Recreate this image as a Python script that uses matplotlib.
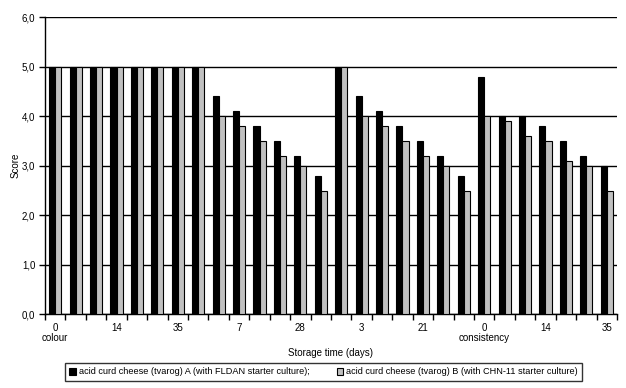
import matplotlib.pyplot as plt
import numpy as np

plt.rcParams['font.family'] = ['Liberation Sans', 'DejaVu Sans']

days = [0, 3, 7, 14, 21, 28, 35]
attributes = ["colour", "odour", "taste", "consistency"]

cheese_A = [5.0, 5.0, 5.0, 5.0, 5.0, 5.0, 5.0,
            5.0, 4.4, 4.1, 3.8, 3.5, 3.2, 2.8,
            5.0, 4.4, 4.1, 3.8, 3.5, 3.2, 2.8,
            4.8, 4.0, 4.0, 3.8, 3.5, 3.2, 3.0]
cheese_B = [5.0, 5.0, 5.0, 5.0, 5.0, 5.0, 5.0,
            5.0, 4.0, 3.8, 3.5, 3.2, 3.0, 2.5,
            5.0, 4.0, 3.8, 3.5, 3.2, 3.0, 2.5,
            4.0, 3.9, 3.6, 3.5, 3.1, 3.0, 2.5]

labels = []
for attr in attributes:
    for i, d in enumerate(days):
        labels.append(str(d) + ("\n" + attr if i == 0 else ""))

x = np.arange(len(cheese_A))
w = 0.3

fig = plt.figure(figsize=(6.26, 3.88), dpi=100)
ax = fig.add_axes([0.0719, 0.19, 0.9137, 0.7654])

ax.bar(x - w / 2, cheese_A, w, color="black", edgecolor="black", linewidth=0.8,
       label="acid curd cheese (tvarog) A (with FLDAN starter culture);", zorder=3)
ax.bar(x + w / 2, cheese_B, w, color="#c0c0c0", edgecolor="black", linewidth=0.8,
       label="acid curd cheese (tvarog) B (with CHN-11 starter culture)", zorder=3)

ax.set_xlim(-0.5, len(x) - 0.5)
ax.set_ylim(0, 6)
ax.set_yticks(np.arange(0, 7, 1))
ax.set_yticklabels([f"{v:.1f}".replace(".", ",") for v in range(7)], fontsize=7)
ax.yaxis.grid(True, color="black", linewidth=1)
ax.set_axisbelow(True)

ax.set_xticks(x[::3])
ax.set_xticklabels(labels[::3], fontsize=7, linespacing=1.1)
ax.set_xticks(np.arange(-0.5, len(x), 1), minor=True)
ax.tick_params(axis="x", which="major", length=0, pad=6)
ax.tick_params(axis="x", which="minor", length=4, width=1, direction="out")
ax.tick_params(axis="y", length=4, width=1, direction="out", pad=3)

for s in ["top", "right"]:
    ax.spines[s].set_visible(False)
for s in ["left", "bottom"]:
    ax.spines[s].set_linewidth(1)

ax.set_xlabel("Storage time (days)", fontsize=7, labelpad=3)
ax.set_ylabel("Score", fontsize=7)
ax.yaxis.set_label_coords(-0.042, 0.5)

leg = fig.legend(loc="center", bbox_to_anchor=(323.5 / 626, 16 / 388), ncol=2,
                 fontsize=6.6, frameon=True, fancybox=False, edgecolor="black",
                 handlelength=0.7, handleheight=0.7, handletextpad=0.3,
                 columnspacing=3, borderpad=0.45)
leg.get_frame().set_linewidth(1)

fig.savefig("out.png", dpi=100)
